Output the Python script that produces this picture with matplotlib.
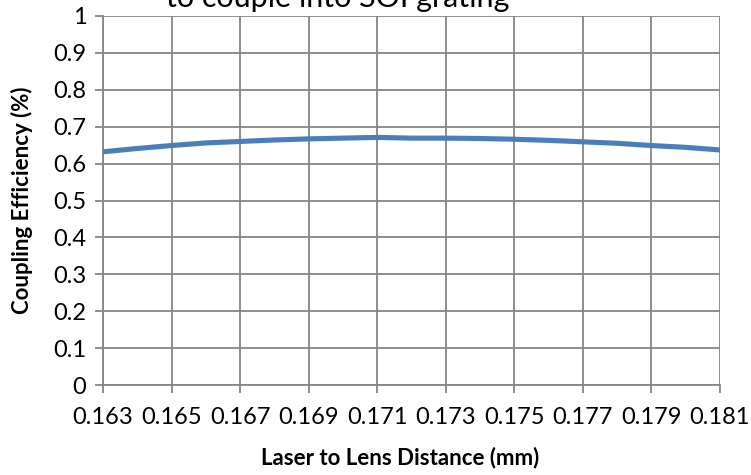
import matplotlib
matplotlib.use("Agg")
import matplotlib.pyplot as plt
import numpy as np

distance_mm = [0.163, 0.164, 0.165, 0.166, 0.167, 0.168, 0.169, 0.170, 0.171, 0.172,
               0.173, 0.174, 0.175, 0.176, 0.177, 0.178, 0.179, 0.180, 0.181]
efficiency = [0.632, 0.641, 0.649, 0.656, 0.660, 0.664, 0.667, 0.669, 0.671, 0.669,
              0.669, 0.668, 0.666, 0.663, 0.659, 0.655, 0.649, 0.644, 0.637]
tick_labels = ["0.163", "0.165", "0.167", "0.169", "0.171", "0.173", "0.175", "0.177", "0.179", "0.181"]
y_ticks = [0, 0.1, 0.2, 0.3, 0.4, 0.5, 0.6, 0.7, 0.8, 0.9, 1]
y_tick_labels = ["0", "0.1", "0.2", "0.3", "0.4", "0.5", "0.6", "0.7", "0.8", "0.9", "1"]

plt.rcParams['font.family'] = ['Lato', 'DejaVu Sans']

W, H = 751, 475
fig = plt.figure(figsize=(7.51, 4.75), dpi=100)
ax = fig.add_axes([103/W, 1 - 385/H, (720-103)/W, (385-16)/H])

grid_c = "#868686"
ax.plot(distance_mm, efficiency, color="#4A7EBB", lw=3.7, solid_capstyle="butt", zorder=3)

ax.set_xlim(0.163, 0.181)
ax.set_ylim(0, 1)
tick_pos = [float(t) for t in tick_labels]
ax.set_xticks(tick_pos)
ax.set_xticklabels(tick_labels, fontsize=17)
ax.set_yticks(y_ticks)
ax.set_yticklabels(y_tick_labels, fontsize=17)
ax.grid(True, color=grid_c, lw=1.3)
ax.set_axisbelow(True)
for s in ["top", "right"]:
    ax.spines[s].set_visible(False)
for s in ["left", "bottom"]:
    ax.spines[s].set_color(grid_c)
    ax.spines[s].set_linewidth(1.3)
ax.tick_params(axis="both", color=grid_c, width=1.3, length=6, direction="out")
ax.tick_params(axis="x", pad=10)
ax.tick_params(axis="y", pad=6)

fig.text(400/W, 1 - 458/H, "Laser to Lens Distance (mm)", fontsize=16, fontweight="bold",
         ha="center", va="center")
fig.text(22/W, 1 - 200/H, "Coupling Efficiency (%)", fontsize=16, fontweight="bold",
         ha="center", va="center", rotation=90)

fig.text(338/W, 1 - 7/H, "to couple into SOI grating", fontsize=22, ha="center", va="baseline")

fig.savefig("out.png", dpi=100)
